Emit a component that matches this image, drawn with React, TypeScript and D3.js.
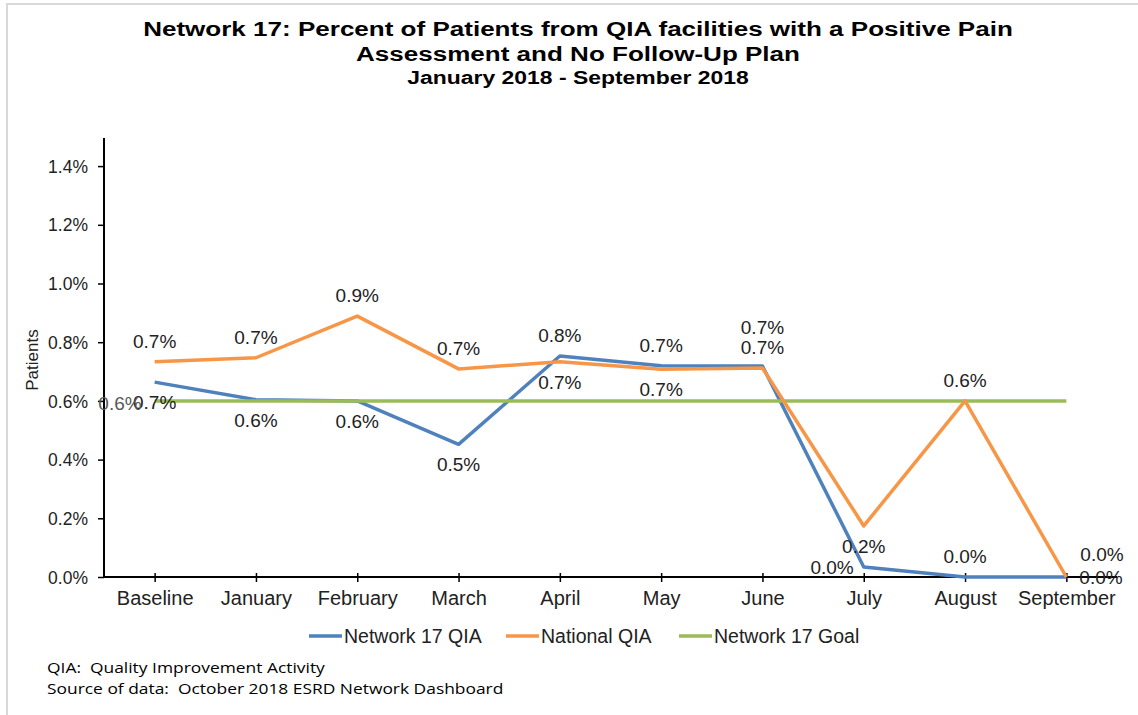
import React, { useEffect, useRef } from 'react';
import * as d3 from 'd3';

// chart data
const categories = ['Baseline', 'January', 'February', 'March', 'April', 'May', 'June', 'July', 'August', 'September'];
const network17 = [0.664, 0.604, 0.6, 0.452, 0.753, 0.72, 0.719, 0.034, 0, 0];
const national = [0.733, 0.747, 0.889, 0.709, 0.733, 0.708, 0.712, 0.174, 0.6, 0];
const goal = [0.6, 0.6, 0.6, 0.6, 0.6, 0.6, 0.6, 0.6, 0.6, 0.6];
const yTicks = [0, 0.2, 0.4, 0.6, 0.8, 1.0, 1.2, 1.4];
const seriesNames = ['Network 17 QIA', 'National QIA', 'Network 17 Goal'];

// where each data label sits, like Excel's label positions
const networkLabelPos = ['below', 'below', 'below', 'below', 'above', 'above', 'above2', 'left', 'above', 'right'];
const nationalLabelPos = ['above', 'above', 'above', 'above', 'below', 'below', 'above', 'below', 'above', 'aboveRight'];

const App = () => {
  const svgRef = useRef<SVGSVGElement>(null);

  useEffect(() => {
    const svg = d3.select(svgRef.current);
    svg.selectAll('*').remove();

    const W = 1138, H = 715;
    const left = 104, right = 1117, top = 138, bottom = 577;
    const font = 'Liberation Sans, Arial, sans-serif';

    // frame
    svg.append('path').attr('d', `M7,${H} L7,4 L${W},4`).attr('fill', 'none').attr('stroke', '#d9d9d9').attr('stroke-width', 2);

    // title (the original is stretched sideways)
    const title = svg.append('g').attr('transform', 'translate(578,0) scale(1.24,1)')
      .attr('font-family', font).attr('font-weight', 'bold').attr('text-anchor', 'middle').attr('fill', '#000');
    title.append('text').attr('x', 0).attr('y', 36).attr('font-size', 21).text('Network 17: Percent of Patients from QIA facilities with a Positive Pain');
    title.append('text').attr('x', 0).attr('y', 61).attr('font-size', 21).text('Assessment and No Follow-Up Plan');
    title.append('text').attr('x', 0).attr('y', 84).attr('font-size', 18.5).text('January 2018 - September 2018');

    const x = d3.scalePoint<string>().domain(categories).range([left, right]).padding(0.5);
    const y = d3.scaleLinear().domain([0, 1.4]).range([bottom, bottom - 1.4 * 293.5]);

    // y axis
    const yAxis = svg.append('g').attr('transform', `translate(${left},0)`)
      .call(d3.axisLeft(y).tickValues(yTicks).tickFormat(d => (+d).toFixed(1) + '%').tickSize(6).tickPadding(10));
    yAxis.select('.domain').attr('d', `M0,${top}V${bottom}`).attr('stroke', '#000').attr('stroke-width', 2);
    yAxis.selectAll('.tick line').attr('stroke', '#000').attr('stroke-width', 1.5);
    yAxis.selectAll('.tick text').attr('font-family', font).attr('font-size', 17.5).attr('fill', '#222').attr('dy', '0.35em');

    // x axis
    const xAxis = svg.append('g').attr('transform', `translate(0,${bottom})`)
      .call(d3.axisBottom(x).tickSize(5).tickPadding(7));
    xAxis.select('.domain').attr('d', `M${left},0H${right}`).attr('stroke', '#000').attr('stroke-width', 2);
    xAxis.selectAll('.tick line').attr('y1', -4).attr('y2', 5).attr('stroke', '#000').attr('stroke-width', 1.5);
    xAxis.selectAll('.tick text').attr('font-family', font).attr('font-size', 20).attr('fill', '#222').attr('dy', '0.8em');

    // axis title
    svg.append('text').attr('transform', `translate(38,360) rotate(-90)`).attr('text-anchor', 'middle')
      .attr('font-family', font).attr('font-size', 17).attr('fill', '#222').text('Patients');

    const colors = ['#4f81bd', '#f79646', '#9bbb59'];
    const line = d3.line<number>().x((_, i) => x(categories[i]) as number).y(d => y(d));

    const drawLine = (vals: number[], color: string) => {
      svg.append('path').datum(vals).attr('d', line).attr('fill', 'none')
        .attr('stroke', color).attr('stroke-width', 3.5).attr('stroke-linejoin', 'round');
    };
    drawLine(network17, colors[0]);
    drawLine(goal, colors[2]);
    drawLine(national, colors[1]);

    const fmt = (v: number) => v.toFixed(1) + '%';
    const labels = svg.append('g').attr('font-family', font).attr('font-size', 19).attr('fill', '#222');
    const drawLabels = (vals: number[], pos: string[]) => {
      vals.forEach((v, i) => {
        const px = x(categories[i]) as number;
        const py = y(v);
        let lx = px, ly = py, anchor = 'middle';
        if (pos[i] === 'above') ly = py - 14;
        else if (pos[i] === 'above2') ly = py - 32;
        else if (pos[i] === 'below') ly = py + 27;
        else if (pos[i] === 'left') { lx = px - 10; ly = py + 7; anchor = 'end'; }
        else if (pos[i] === 'right') { lx = px + 13; ly = py + 7; anchor = 'start'; }
        else if (pos[i] === 'aboveRight') { lx = px + 14; ly = py - 16; anchor = 'start'; }
        labels.append('text').attr('x', lx).attr('y', ly).attr('text-anchor', anchor).text(fmt(v));
      });
    };
    drawLabels(network17, networkLabelPos);
    drawLabels(national, nationalLabelPos);
    // goal gets a single label left of its first point
    labels.append('text').attr('x', (x(categories[0]) as number) - 13).attr('y', y(goal[0]) + 9)
      .attr('text-anchor', 'end').attr('fill', '#595959').text(fmt(goal[0]));

    // legend
    const legendX = [309, 506, 679];
    const legend = svg.append('g').attr('font-family', font).attr('font-size', 19.5).attr('fill', '#222');
    seriesNames.forEach((name, i) => {
      legend.append('line').attr('x1', legendX[i]).attr('x2', legendX[i] + 33).attr('y1', 636).attr('y2', 636)
        .attr('stroke', colors[i]).attr('stroke-width', 3.5);
      legend.append('text').attr('x', legendX[i] + 35).attr('y', 643).text(name);
    });

    // footnotes
    const foot = svg.append('g').attr('transform', 'translate(47,0) scale(1.16,1)')
      .attr('font-family', 'Open Sans, sans-serif').attr('font-size', 15).attr('fill', '#000');
    foot.append('text').attr('x', 0).attr('y', 673).attr('xml:space', 'preserve').text('QIA:  Quality Improvement Activity');
    foot.append('text').attr('x', 0).attr('y', 694).attr('xml:space', 'preserve').text('Source of data:  October 2018 ESRD Network Dashboard');
  }, []);

  return (
    <svg ref={svgRef} width={1138} height={715} style={{ position: 'absolute', left: 0, top: 0, background: '#fff' }} />
  );
};

export default App;
